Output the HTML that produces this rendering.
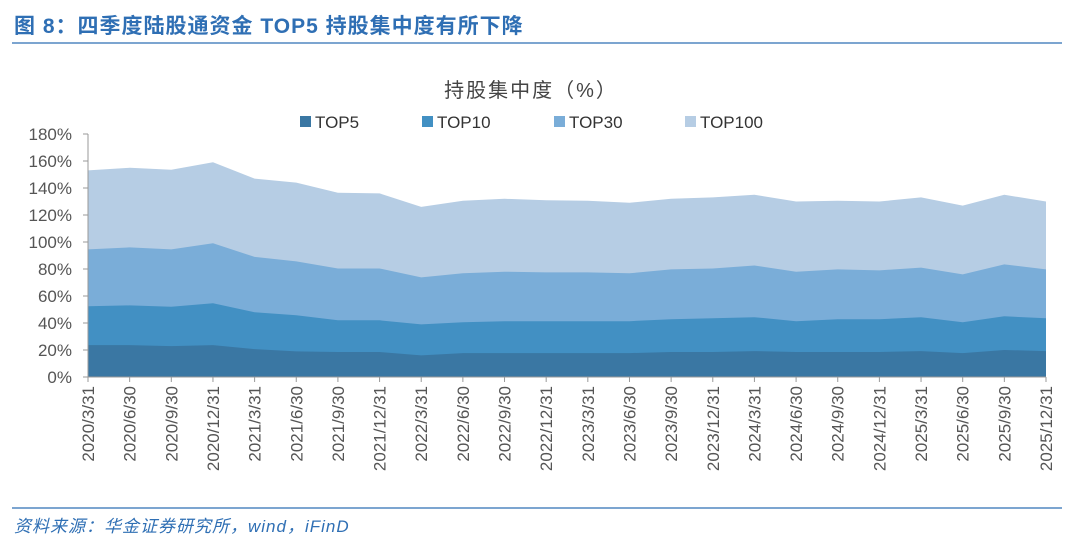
<!DOCTYPE html><html><head><meta charset="utf-8"><style>
body{margin:0;background:#fff;width:1080px;height:554px;overflow:hidden;font-family:"Liberation Sans","Noto Sans CJK SC",sans-serif}
</style></head><body>
<svg id="s" width="1080" height="554" xmlns="http://www.w3.org/2000/svg" font-family="Liberation Sans, Noto Sans CJK SC, sans-serif">
<text x="14" y="33" font-size="21" fill="#2f6fb4" font-weight="bold" letter-spacing="1">图 8：四季度陆股通资金 TOP5 持股集中度有所下降</text>
<line x1="12" y1="43" x2="1062" y2="43" stroke="#2f6fb4" stroke-width="1.2"/>
<text x="531" y="97" font-size="20" fill="#444" text-anchor="middle" letter-spacing="2">持股集中度（%）</text>
<g font-size="17" fill="#333">
<rect x="300" y="116" width="11" height="11" fill="#3a77a3"/><text x="315" y="128">TOP5</text>
<rect x="422" y="116" width="11" height="11" fill="#4290c3"/><text x="437" y="128">TOP10</text>
<rect x="554" y="116" width="11" height="11" fill="#7aadd8"/><text x="569" y="128">TOP30</text>
<rect x="685" y="116" width="11" height="11" fill="#b6cde4"/><text x="700" y="128">TOP100</text>
</g>
<g id="areas"></g>
<g id="axes" font-size="17" fill="#555"></g>
<line x1="12" y1="508" x2="1062" y2="508" stroke="#2f6fb4" stroke-width="1.2"/>
<text x="14" y="532" font-size="17" fill="#2f6fb4" font-style="italic" letter-spacing="1">资料来源：华金证券研究所，wind，iFinD</text>
</svg>
<script>
var t100=[153,155,153.5,159,147,144,136.5,136,126,130.6,132,131,130.6,129,132,133,135,130,130.6,130,133,127,135,130];
var t30=[94.5,96,94.5,99,89,85.6,80.4,80.4,73.8,76.8,78,77.5,77.5,76.8,79.7,80.4,82.6,78,79.7,79,81,76,83.4,79.7];
var t10=[52.4,53,52,54.6,48,45.8,42,42,39,40.6,41.3,41.3,41.3,41.3,42.8,43.5,44.3,41.3,42.8,42.8,44.3,40.6,45,43.5];
var t5=[23.6,23.6,22.9,23.6,20.7,19,18.5,18.5,16,17.7,17.7,17.7,17.7,17.7,18.5,18.5,19.2,18.5,18.5,18.5,19.2,17.7,20,19.2];
var X=function(i){return 88+i*(1046-88)/23},Y=function(v){return 377-v*(377-134)/180};
var NS="http://www.w3.org/2000/svg",g=document.getElementById('areas');
[[t100,'#b6cde4'],[t30,'#7aadd8'],[t10,'#4290c3'],[t5,'#3a77a3']].forEach(function(a){
 var d='M88,377';a[0].forEach(function(v,i){d+='L'+X(i).toFixed(1)+','+Y(v).toFixed(1)});d+='L1046,377Z';
 var p=document.createElementNS(NS,'path');p.setAttribute('d',d);p.setAttribute('fill',a[1]);g.appendChild(p);});
var ax=document.getElementById('axes'),h='';
h+='<line x1="88" y1="134" x2="88" y2="377" stroke="#999"/><line x1="88" y1="377" x2="1046" y2="377" stroke="#999"/>';
for(var k=0;k<=9;k++){var y=Y(k*20);h+='<line x1="83" y1="'+y+'" x2="88" y2="'+y+'" stroke="#999"/><text x="72" y="'+(y+6)+'" text-anchor="end">'+(k*20)+'%</text>';}
var labs=[];for(var yr=2020;yr<=2025;yr++){['3/31','6/30','9/30','12/31'].forEach(function(q){labs.push(yr+'/'+q)})}
labs.forEach(function(l,i){var x=X(i);h+='<line x1="'+x+'" y1="377" x2="'+x+'" y2="382" stroke="#999"/><text transform="translate('+(x+6)+',386) rotate(-90)" text-anchor="end">'+l+'</text>';});
ax.innerHTML=h;
</script>
</body></html>
